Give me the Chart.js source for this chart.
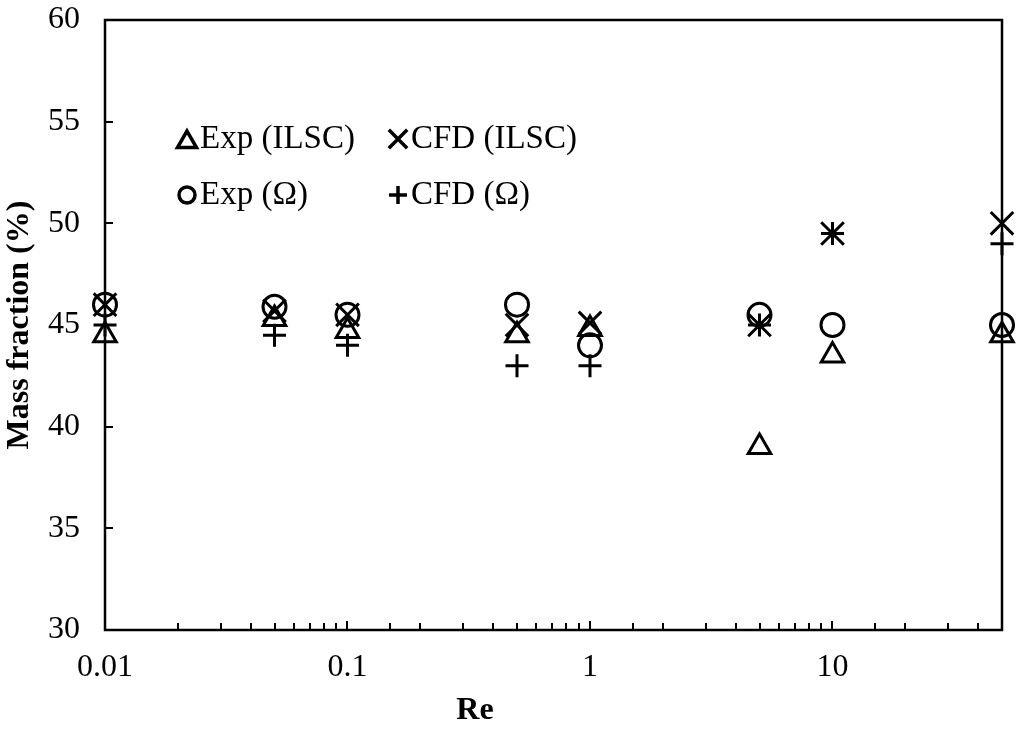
<!DOCTYPE html>
<html>
<head>
<meta charset="utf-8">
<script src="https://cdn.jsdelivr.net/npm/chart.js@4.4.0/dist/chart.umd.min.js"></script>
<style>
  html, body { margin: 0; padding: 0; background: #fff; }
  #chart { display: block; }
</style>
</head>
<body>
<canvas id="chart" width="1024" height="730"></canvas>
<script>
// Re values and mass fractions
const reValues = [0.01, 0.05, 0.1, 0.5, 1, 5, 10, 50];
const expILSC = [44.5, 45.3, 44.7, 44.5, 44.8, 39, 43.5, 44.5];
const expOmega = [46, 45.9, 45.5, 46, 44, 45.5, 45, 45];
const cfdILSC = [46, 45.7, 45.5, 45, 45.1, 45, 49.5, 50];
const cfdOmega = [45, 44.5, 44, 43, 43, 45, 49.5, 49];

const seriesLabels = ['Exp (ILSC)', 'Exp (\u03A9)', 'CFD (ILSC)', 'CFD (\u03A9)'];
const yTicks = [30, 35, 40, 45, 50, 55, 60];

const serif = "'Liberation Serif', 'Times New Roman', serif";

function toPoints(ys) {
    return reValues.map((x, i) => ({ x: x, y: ys[i] }));
}

function isDecade(v) {
    const l = Math.log10(v);
    return Math.abs(l - Math.round(l)) < 1e-6;
}

// inward ticks, closed frame, x title and the legend inside the plot
const extrasPlugin = {
    id: 'extras',
    afterDraw(chart) {
        const ctx = chart.ctx;
        const area = chart.chartArea;
        const xs = chart.scales.x;
        const ys = chart.scales.y;

        ctx.save();
        ctx.strokeStyle = '#000';
        ctx.lineWidth = 2.5;
        ctx.strokeRect(area.left, area.top, area.right - area.left, area.bottom - area.top);

        ctx.lineWidth = 2;
        ctx.beginPath();
        xs.ticks.forEach(t => {
            if (t.value <= xs.min * 1.0001 || t.value >= xs.max * 0.9999) return;
            const px = Math.round(xs.getPixelForValue(t.value));
            const len = isDecade(t.value) ? 9 : 7;
            ctx.moveTo(px, area.bottom);
            ctx.lineTo(px, area.bottom - len);
        });
        yTicks.forEach(v => {
            if (v <= ys.min || v >= ys.max) return;
            const py = Math.round(ys.getPixelForValue(v));
            ctx.moveTo(area.left, py);
            ctx.lineTo(area.left + 8, py);
        });
        ctx.stroke();

        // x axis title
        ctx.fillStyle = '#000';
        ctx.font = 'bold 32px ' + serif;
        ctx.textAlign = 'center';
        ctx.textBaseline = 'middle';
        ctx.fillText('Re', 475, 711);

        // legend
        const items = [
            { label: seriesLabels[0], style: 'triangle', r: 11, x: 187, y: 139 },
            { label: seriesLabels[1], style: 'circle', r: 8, x: 187, y: 195 },
            { label: seriesLabels[2], style: 'crossRot', r: 13, x: 398, y: 139 },
            { label: seriesLabels[3], style: 'cross', r: 9, x: 398, y: 195 }
        ];
        ctx.font = '33px ' + serif;
        ctx.textAlign = 'left';
        items.forEach(it => {
            ctx.lineWidth = 3.5;
            ctx.strokeStyle = '#000';
            ctx.fillStyle = 'rgba(0,0,0,0)';
            Chart.helpers.drawPoint(ctx, {
                pointStyle: it.style,
                radius: it.r,
                rotation: 0,
                borderWidth: 3.5
            }, it.x, it.y + (it.style === 'triangle' ? 3 : 0));
            ctx.fillStyle = '#000';
            ctx.fillText(it.label, it.x + 13, it.y);
        });
        ctx.restore();
    }
};

const baseSet = {
    showLine: false,
    borderColor: '#000',
    backgroundColor: 'rgba(0,0,0,0)',
    pointBorderColor: '#000',
    pointBackgroundColor: 'rgba(0,0,0,0)',
    pointBorderWidth: 3,
    clip: false
};

const ctx = document.getElementById('chart').getContext('2d');
const chart = new Chart(ctx, {
    type: 'scatter',
    data: {
        datasets: [
            Object.assign({}, baseSet, { label: seriesLabels[0], data: toPoints(expILSC), pointStyle: 'triangle', pointRadius: 13 }),
            Object.assign({}, baseSet, { label: seriesLabels[1], data: toPoints(expOmega), pointStyle: 'circle', pointRadius: 11.5 }),
            Object.assign({}, baseSet, { label: seriesLabels[2], data: toPoints(cfdILSC), pointStyle: 'crossRot', pointRadius: 16 }),
            Object.assign({}, baseSet, { label: seriesLabels[3], data: toPoints(cfdOmega), pointStyle: 'cross', pointRadius: 11.5 })
        ]
    },
    options: {
        responsive: false,
        animation: false,
        devicePixelRatio: 1,
        layout: { padding: { top: 20, right: 22, left: 0, bottom: 0 } },
        plugins: {
            legend: { display: false },
            tooltip: { enabled: false }
        },
        scales: {
            x: {
                type: 'logarithmic',
                min: 0.01,
                max: 50,
                grid: { display: false, drawTicks: false },
                border: { display: false },
                ticks: {
                    autoSkip: false,
                    maxRotation: 0,
                    padding: 18,
                    color: '#000',
                    font: { family: serif, size: 32 },
                    callback: function(value) {
                        return isDecade(value) ? String(+value.toPrecision(6)) : '';
                    }
                },
                afterFit: function(scale) {
                    scale.height = 100;
                    scale.paddingLeft = 0;
                    scale.paddingRight = 0;
                }
            },
            y: {
                min: 30,
                max: 60,
                grid: { display: false, drawTicks: false },
                border: { display: false },
                ticks: {
                    stepSize: 5,
                    padding: 25,
                    color: '#000',
                    font: { family: serif, size: 32 }
                },
                title: {
                    display: true,
                    text: 'Mass fraction (%)',
                    color: '#000',
                    font: { family: serif, size: 32, weight: 'bold' },
                    padding: { top: 1, bottom: 0 }
                },
                afterFit: function(scale) {
                    scale.width = 105;
                    scale.paddingTop = 0;
                    scale.paddingBottom = 0;
                }
            }
        }
    },
    plugins: [extrasPlugin]
});
</script>
</body>
</html>
